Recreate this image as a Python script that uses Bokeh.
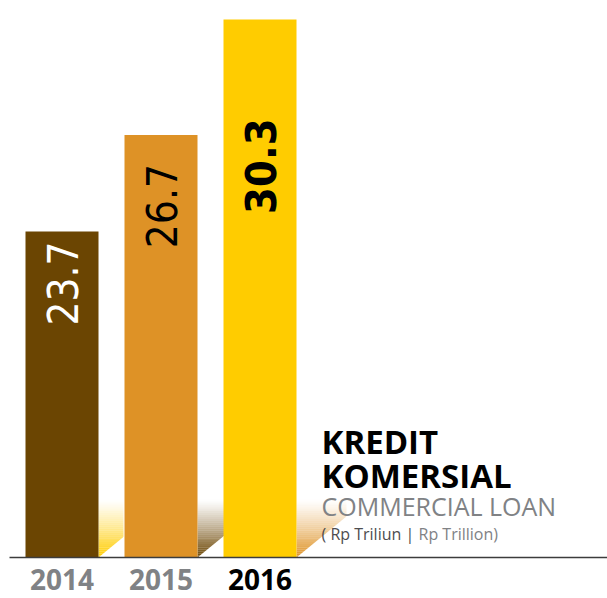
import numpy as np
from bokeh.plotting import figure
from bokeh.models import Range1d
from bokeh.embed import file_html
from bokeh.resources import INLINE
from bokeh.core.properties import value

# ---------------- data ----------------
years = ["2014", "2015", "2016"]
loans = [23.7, 26.7, 30.3]          # Rp trillion
value_labels = ["23.7", "26.7", "30.3"]
title_id = ["KREDIT", "KOMERSIAL"]
title_en = "COMMERCIAL LOAN"
unit_id = "( Rp Triliun |"
unit_en = "Rp Trillion)"

# ---------------- style ----------------
bar_colors = ["#6b4502", "#de9226", "#ffcc00"]
shadow_colors = ["#ffcc00", "#6b4502", "#de9226"]
label_colors = ["#ffffff", "#000000", "#000000"]
year_colors = ["#808285", "#808285", "#000000"]
label_drop_px = [10, 29, 99]
shadow_w_px = [25, 27, 50]
NARROW = "'DejaVu Sans Condensed', 'Liberation Sans Narrow', Lato, sans-serif"

W, H = 607, 598
X0, STEP, BAR_W = 61.5, 99.0, 73.0
Y0, Y1 = 12.27, 30.89
PXU = H / (Y1 - Y0)               # pixels per unit
BASE = Y0 + 41 / PXU              # value at baseline

p = figure(width=W, height=H, output_backend="svg", toolbar_location=None,
           x_range=Range1d(0, W), y_range=Range1d(Y0, Y1),
           min_border=0, outline_line_color=None, background_fill_color="white",
           border_fill_color="white")
p.axis.visible = False
p.grid.visible = False

xs = [X0 + i * STEP for i in range(len(years))]

# ---------------- shadows (gradient strips) ----------------
SH_H = 58
SLOPE = 0.82
N = 30
ql, qr, qb, qt, qc, qa = [], [], [], [], [], []
tri_x, tri_y = [], []
for i, xc in enumerate(xs):
    xl = xc + BAR_W / 2
    xr = xl + shadow_w_px[i]
    for k in range(N):
        h0 = SH_H * k / N
        h1 = SH_H * (k + 1) / N
        ql.append(xl); qr.append(xr)
        qb.append(BASE + h0 / PXU); qt.append(BASE + h1 / PXU)
        qc.append(shadow_colors[i])
        qa.append(max(0.0, 1 - (h0 + h1) / 2 / SH_H) ** 1.2)
    tri_x.append([xl, xr + 0.5, xr + 0.5])
    tri_y.append([BASE, BASE + SLOPE * (xr + 0.5 - xl) / PXU, BASE - 0.2])
p.quad(left=ql, right=qr, bottom=qb, top=qt, fill_color=qc, fill_alpha=qa,
       line_color=None)
p.patches(tri_x, tri_y, fill_color="white", line_color=None)

# ---------------- bars ----------------
p.vbar(x=xs, top=loans, bottom=BASE, width=BAR_W, fill_color=bar_colors,
       line_color=None)

# baseline
p.segment(x0=[9], y0=[BASE], x1=[W], y1=[BASE], line_color="#3c3c3c",
          line_width=1.5)

# ---------------- value labels (rotated) ----------------
ly = [v - d / PXU for v, d in zip(loans, label_drop_px)]
p.text(x=xs[:2], y=ly[:2], text=value_labels[:2], angle=np.pi / 2,
       text_align="right", text_baseline="middle", text_color=label_colors[:2],
       text_font=value(NARROW), text_font_size="42px")
p.text(x=xs[2:], y=ly[2:], text=value_labels[2:], angle=np.pi / 2,
       text_align="right", text_baseline="middle", text_color=label_colors[2:],
       text_font=value(NARROW), text_font_size="43px",
       text_font_style="bold")

# ---------------- year labels ----------------
p.text(x=xs, y=[BASE - 22 / PXU] * 3, text=years, text_align="center",
       text_baseline="alphabetic", text_color=year_colors,
       text_font=value("Open Sans"), text_font_size="28px", text_font_style="bold")

# ---------------- title block ----------------
TX = 321
def yv(px_above_base):
    return BASE + px_above_base / PXU

p.text(x=[TX, TX], y=[yv(557 - 441), yv(557 - 475)], text=title_id,
       text_baseline="alphabetic", text_color="#000000",
       text_font=value("Open Sans"), text_font_size="33px", text_font_style="bold")
p.text(x=[TX], y=[yv(557 - 505)], text=[title_en], text_baseline="alphabetic",
       text_color="#808285", text_font=value("Open Sans"), text_font_size="25px")
p.text(x=[TX], y=[yv(557 - 533)], text=[unit_id], text_baseline="alphabetic",
       text_color="#4d4d4f", text_font=value("Open Sans"), text_font_size="16px")
p.text(x=[418], y=[yv(557 - 533)], text=[unit_en], text_baseline="alphabetic",
       text_color="#808285", text_font=value("Open Sans"), text_font_size="16px")

open("out.html", "w").write(file_html(p, INLINE))
